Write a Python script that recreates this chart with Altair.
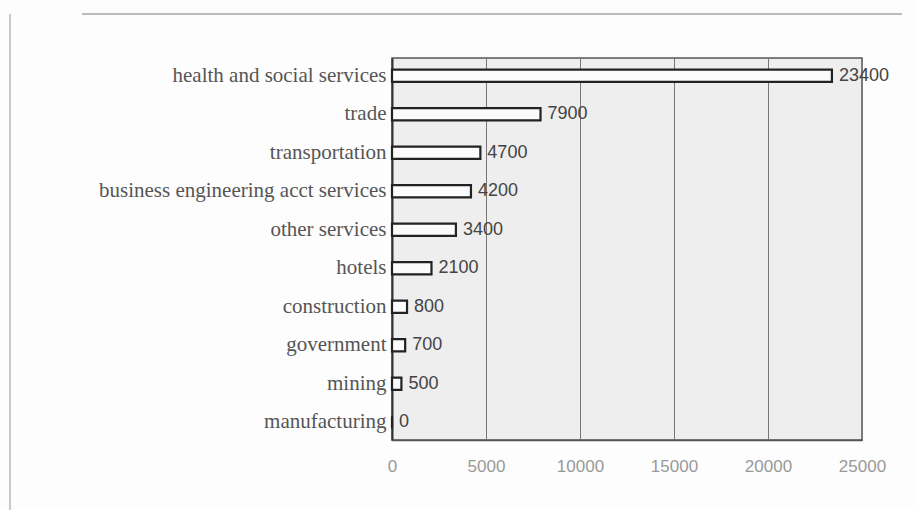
import altair as alt
import pandas as pd

sectors = [
    "health and social services",
    "trade",
    "transportation",
    "business engineering acct services",
    "other services",
    "hotels",
    "construction",
    "government",
    "mining",
    "manufacturing",
]
jobs = [23400, 7900, 4700, 4200, 3400, 2100, 800, 700, 500, 0]
x_ticks = [0, 5000, 10000, 15000, 20000, 25000]

df = pd.DataFrame({"sector": sectors, "jobs": jobs})

y_enc = alt.Y(
    "sector:N",
    sort=sectors,
    scale=alt.Scale(paddingInner=0.68, paddingOuter=0.3),
    axis=alt.Axis(
        title=None,
        labelFont="Liberation Serif",
        labelFontSize=21,
        labelColor="#555555",
        labelPadding=6,
        labelLimit=0,
        ticks=False,
        domain=True,
        domainColor="#333333",
        domainWidth=2,
        grid=False,
    ),
)
x_enc = alt.X(
    "jobs:Q",
    scale=alt.Scale(domain=[0, 25000], nice=False),
    axis=alt.Axis(
        title=None,
        values=x_ticks,
        format="d",
        labelFont="Liberation Sans",
        labelFontSize=17,
        labelColor="#999999",
        labelPadding=18,
        labelFlush=False,
        ticks=False,
        domain=True,
        domainColor="#555555",
        domainWidth=1.5,
        grid=True,
        gridColor="#777777",
        gridWidth=1,
    ),
)

bars = alt.Chart(df).mark_bar(
    fill="#fbfbfb", stroke="#222222", strokeWidth=2.2
).encode(x=x_enc, y=y_enc)

labels = alt.Chart(df).mark_text(
    align="left", baseline="middle", dx=7, font="Liberation Sans",
    fontSize=18, color="#444444"
).encode(x="jobs:Q", y=alt.Y("sector:N", sort=sectors), text="jobs:Q")

# outer frame of the figure box (top and left edges)
frame_top = alt.Chart(df).mark_rule(color="#bbbbbb", strokeWidth=1.5).encode(
    x=alt.value(-310), x2=alt.value(510), y=alt.value(-44)
)
frame_left = alt.Chart(df).mark_rule(color="#c8c8c8", strokeWidth=1.5).encode(
    x=alt.value(-382), y=alt.value(-44), y2=alt.value(460)
)

chart = (
    alt.layer(bars, labels, frame_top, frame_left)
    .properties(
        width=470,
        height=382,
        autosize=alt.AutoSizeParams(type="none"),
        padding={"left": 392, "top": 58, "right": 52, "bottom": 70},
        background="#fdfdfd",
    )
    .configure_view(fill="#eeeeee", stroke="#555555", strokeWidth=1.5)
)

chart.save("out.html", embed_options={"renderer": "svg", "actions": False})
